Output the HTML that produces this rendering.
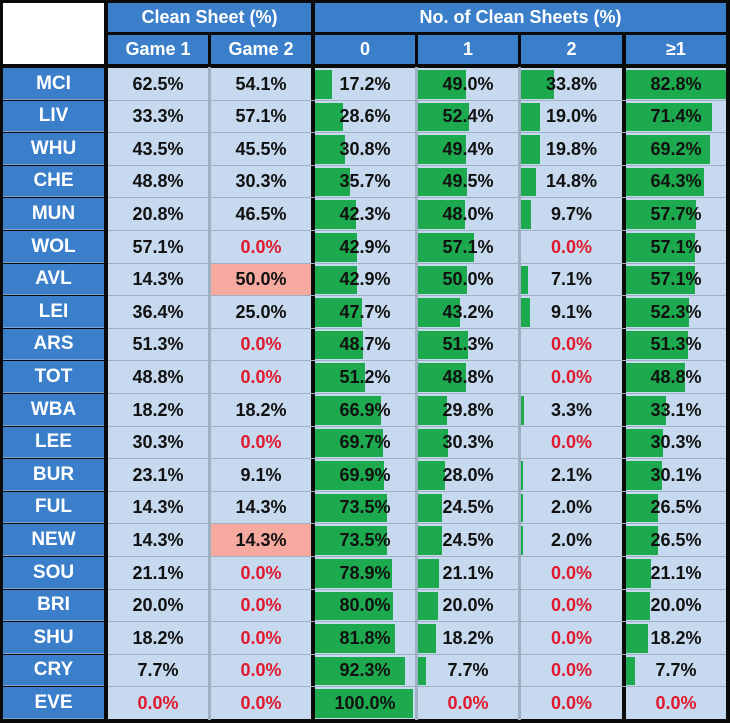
<!DOCTYPE html>
<html><head><meta charset="utf-8"><style>
body{margin:0;background:#fff;}
#t{position:relative;width:730px;height:723px;background:#0a0a0a;overflow:hidden;font-family:"Liberation Sans",Arial,sans-serif;font-weight:bold;}
.c{position:absolute;box-sizing:border-box;display:flex;align-items:center;justify-content:center;}
.h{background:#3b7fcb;color:#fff;font-size:18px;}
.lab{background:#3b7fcb;color:#fff;font-size:19px;}
.d{background:#c6d9ee;color:#111;font-size:18px;}
.bar{position:absolute;background:#1daa4e;}
.txt{position:relative;}
.vs{position:absolute;background:#9fb0c2;width:3px;}
</style></head><body>
<div id="t"></div>
<script>
const teams=["MCI","LIV","WHU","CHE","MUN","WOL","AVL","LEI","ARS","TOT","WBA","LEE","BUR","FUL","NEW","SOU","BRI","SHU","CRY","EVE"];
const game1=[62.5,33.3,43.5,48.8,20.8,57.1,14.3,36.4,51.3,48.8,18.2,30.3,23.1,14.3,14.3,21.1,20.0,18.2,7.7,0.0];
const game2=[54.1,57.1,45.5,30.3,46.5,0.0,50.0,25.0,0.0,0.0,18.2,0.0,9.1,14.3,14.3,0.0,0.0,0.0,0.0,0.0];
const cs0=[17.2,28.6,30.8,35.7,42.3,42.9,42.9,47.7,48.7,51.2,66.9,69.7,69.9,73.5,73.5,78.9,80.0,81.8,92.3,100.0];
const cs1=[49.0,52.4,49.4,49.5,48.0,57.1,50.0,43.2,51.3,48.8,29.8,30.3,28.0,24.5,24.5,21.1,20.0,18.2,7.7,0.0];
const cs2=[33.8,19.0,19.8,14.8,9.7,0.0,7.1,9.1,0.0,0.0,3.3,0.0,2.1,2.0,2.0,0.0,0.0,0.0,0.0,0.0];
const cs1plus=[82.8,71.4,69.2,64.3,57.7,57.1,57.1,52.3,51.3,48.8,33.1,30.3,30.1,26.5,26.5,21.1,20.0,18.2,7.7,0.0];
const pinkCells=[6,14];
const T=document.getElementById('t');
function cell(x,y,w,h,cls,text,name){const e=document.createElement('div');e.className='c '+cls;e.style.left=x+'px';e.style.top=y+'px';e.style.width=w+'px';e.style.height=h+'px';if(text!==undefined){const s=document.createElement('span');s.className='txt';s.textContent=text;e.appendChild(s);}


T.appendChild(e);return e;}
[208,415,518].forEach(x=>{const v=document.createElement('div');v.className='vs';v.style.left=x+'px';v.style.top='67px';v.style.height='653px';


T.appendChild(v);});
const cols=[[108,100],[211,100],[315,100],[418,100],[521,101],[626,100]];
const w0=cell(3,3,101,61,'','', 'corner-blank');w0.style.background='#fff';
cell(108,3,203,29,'h','Clean Sheet (%)','header-clean-sheet');
cell(315,3,411,29,'h','No. of Clean Sheets (%)','header-no-clean-sheets');
const sub=['Game 1','Game 2','0','1','2','≥1'];
sub.forEach((s,i)=>cell(cols[i][0],35,cols[i][1],29,'h',s,'subheader-'+(i<2?'game-'+(i+1):'cs-'+i)));
const y0=68,rh=32.6;
const series=[game1,game2,cs0,cs1,cs2,cs1plus];
const scale=[null,null,0.98,0.98,0.98,100/82.8];
teams.forEach((tm,r)=>{
 const y=Math.round(y0+r*rh),h=Math.round(y0+(r+1)*rh)-y-1;
 const l=cell(3,y,101,h,'lab',tm,'team-label-'+tm.toLowerCase());
 l.style.borderBottom='1px solid #7aa6d8';
 series.forEach((arr,i)=>{
  const v=arr[r];
  const e=cell(cols[i][0],y,cols[i][1],h,'d',v.toFixed(1)+'%','cell-'+tm.toLowerCase()+'-'+i);
  if(i==1&&pinkCells.includes(r))e.style.background='#f6a99f';
  if(v===0)e.style.color='#e0192e';
  if(scale[i]&&v>0){
   const b=document.createElement('div');b.className='bar';
   
   
   b.style.left='0px';b.style.top='2px';b.style.height=(h-3)+'px';
   b.style.width=Math.min(cols[i][1],v*scale[i]*(i==5?cols[i][1]/100:1))+'px';
   e.insertBefore(b,e.firstChild);
  }
 });
 if(r<19){const g=document.createElement('div');g.style.cssText='position:absolute;left:108px;width:618px;height:1px;background:#9fb0c2;top:'+(y+h)+'px';
 
 
 T.appendChild(g);}
});
</script>
</body></html>
